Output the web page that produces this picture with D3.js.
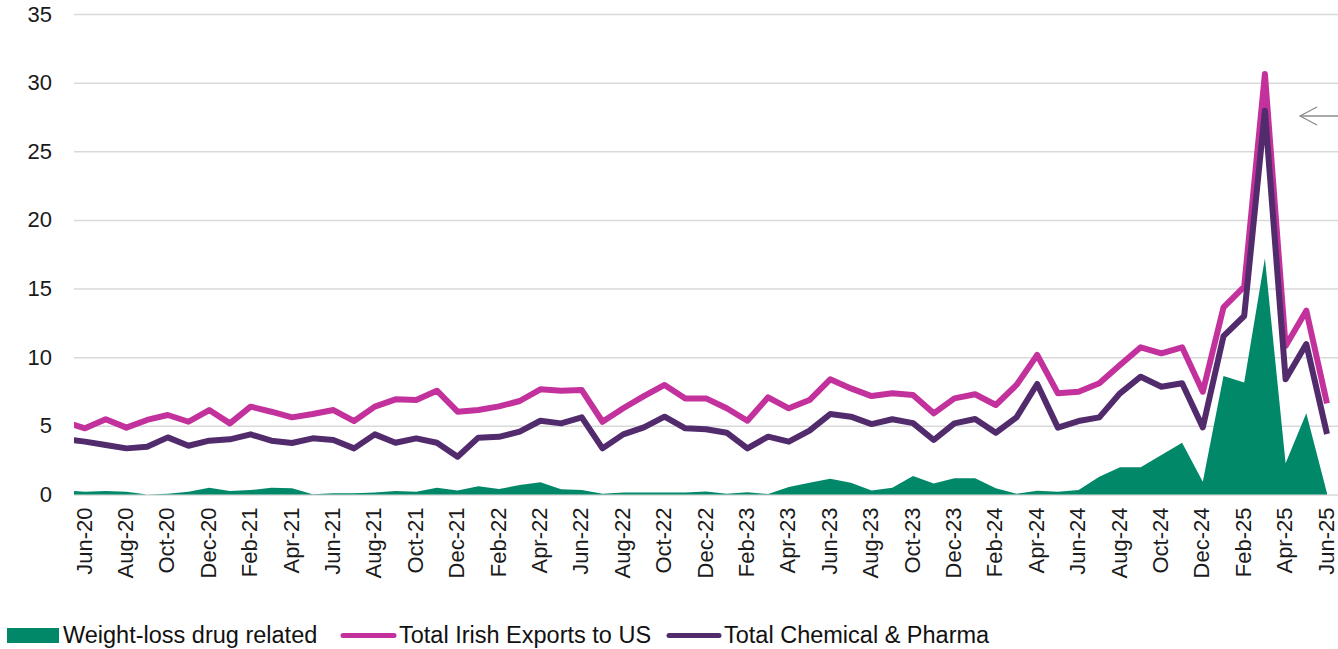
<!DOCTYPE html>
<html>
<head>
<meta charset="utf-8">
<script src="https://cdn.jsdelivr.net/npm/d3@7"></script>
<style>
	html, body { margin: 0; padding: 0; background: #fff; }
	svg { display: block; font-family: "Liberation Sans", Arial, sans-serif; }
</style>
</head>
<body>
<svg id="chart" width="1338" height="649"></svg>
<script>
// months, May-20 .. Jun-25 (May-20 sits partly behind the left edge)
var months = ['May-20','Jun-20','Jul-20','Aug-20','Sep-20','Oct-20','Nov-20','Dec-20',
	'Jan-21','Feb-21','Mar-21','Apr-21','May-21','Jun-21','Jul-21','Aug-21','Sep-21','Oct-21','Nov-21','Dec-21',
	'Jan-22','Feb-22','Mar-22','Apr-22','May-22','Jun-22','Jul-22','Aug-22','Sep-22','Oct-22','Nov-22','Dec-22',
	'Jan-23','Feb-23','Mar-23','Apr-23','May-23','Jun-23','Jul-23','Aug-23','Sep-23','Oct-23','Nov-23','Dec-23',
	'Jan-24','Feb-24','Mar-24','Apr-24','May-24','Jun-24','Jul-24','Aug-24','Sep-24','Oct-24','Nov-24','Dec-24',
	'Jan-25','Feb-25','Mar-25','Apr-25','May-25','Jun-25'];

var totalExports = [5.3, 4.82, 5.48, 4.87, 5.43, 5.79, 5.3, 6.15,
	5.18, 6.4, 6.03, 5.62, 5.86, 6.15, 5.35, 6.4, 6.93, 6.88, 7.56, 6.03,
	6.15, 6.42, 6.81, 7.66, 7.56, 7.61, 5.3, 6.28, 7.17, 7.98, 7.0, 7.0,
	6.28, 5.37, 7.08, 6.28, 6.88, 8.39, 7.73, 7.17, 7.37, 7.25, 5.91, 7.0,
	7.3, 6.52, 7.98, 10.16, 7.37, 7.49, 8.1, 9.43, 10.72, 10.28, 10.72, 7.49,
	13.63, 15.14, 30.63, 10.82, 13.39, 6.64];

var chemPharma = [4.05, 3.85, 3.6, 3.36, 3.48, 4.16, 3.55, 3.92,
	4.02, 4.38, 3.92, 3.75, 4.09, 3.97, 3.36, 4.38, 3.77, 4.09, 3.77, 2.75,
	4.14, 4.2, 4.58, 5.37, 5.18, 5.62, 3.36, 4.38, 4.89, 5.67, 4.82, 4.75,
	4.5, 3.36, 4.21, 3.85, 4.65, 5.86, 5.67, 5.13, 5.48, 5.2, 3.97, 5.18,
	5.5, 4.5, 5.62, 8.05, 4.87, 5.35, 5.62, 7.37, 8.58, 7.85, 8.1, 4.89,
	11.54, 13.0, 27.95, 8.39, 10.96, 4.41];

var weightLoss = [0.3, 0.2, 0.25, 0.2, 0.0, 0.05, 0.2, 0.5,
	0.25, 0.32, 0.5, 0.45, 0.02, 0.1, 0.1, 0.15, 0.25, 0.2, 0.5, 0.3,
	0.6, 0.4, 0.69, 0.89, 0.38, 0.33, 0.05, 0.15, 0.15, 0.15, 0.15, 0.22,
	0.05, 0.17, 0.03, 0.55, 0.85, 1.15, 0.85, 0.3, 0.5, 1.35, 0.81, 1.18,
	1.18, 0.45, 0.05, 0.28, 0.2, 0.33, 1.3, 1.98, 1.98, 2.88, 3.77, 0.93,
	8.63, 8.15, 17.2, 2.27, 5.91, 0.09];

var yTicks = [0, 5, 10, 15, 20, 25, 30, 35];

var seriesNames = ['Weight-loss drug related', 'Total Irish Exports to US', 'Total Chemical & Pharma'];

var green = '#008868', pink = '#C3329C', purple = '#522B6D';

var svg = d3.select('#chart');
var plotLeft = 74, plotRight = 1338;

var x = d3.scalePoint()
	.domain(months)
	.range([64.3, 64.3 + 20.7 * (months.length - 1)]);
var y = d3.scaleLinear()
	.domain([0, 35])
	.range([494.5, 14]);

svg.append('defs').append('clipPath')
	.attr('id', 'plotclip')
	.append('rect')
	.attr('x', plotLeft)
	.attr('y', 0)
	.attr('width', plotRight - plotLeft)
	.attr('height', 520);

// gridlines + y labels
var yAxis = d3.axisLeft(y)
	.tickValues(yTicks)
	.tickSize(-(plotRight - plotLeft))
	.tickPadding(22);
var gy = svg.append('g')
	.attr('transform', 'translate(' + plotLeft + ',0)')
	.call(yAxis);
gy.select('.domain').remove();
gy.selectAll('.tick line')
	.attr('stroke', '#d9d9d9')
	.attr('stroke-width', 1.5);
gy.selectAll('.tick text')
	.attr('fill', '#1a1a1a')
	.style('font-size', '22px');

var plot = svg.append('g').attr('clip-path', 'url(#plotclip)');

var area = d3.area()
	.x(function(d, i) { return x(months[i]); })
	.y0(y(0))
	.y1(function(d) { return y(d); });
plot.append('path')
	.datum(weightLoss)
	.attr('fill', green)
	.attr('d', area);

var line = d3.line()
	.x(function(d, i) { return x(months[i]); })
	.y(function(d) { return y(d); });
plot.append('path')
	.datum(totalExports)
	.attr('fill', 'none')
	.attr('stroke', pink)
	.attr('stroke-width', 6)
	.attr('stroke-linejoin', 'round')
	.attr('d', line);
plot.append('path')
	.datum(chemPharma)
	.attr('fill', 'none')
	.attr('stroke', purple)
	.attr('stroke-width', 6)
	.attr('stroke-linejoin', 'round')
	.attr('d', line);

// x labels, every second month from Jun-20
var labelled = months.filter(function(m, i) { return i % 2 === 1; });
var xAxis = d3.axisBottom(x)
	.tickValues(labelled)
	.tickSize(0);
var gx = svg.append('g')
	.attr('transform', 'translate(0,' + y(0) + ')')
	.call(xAxis);
gx.select('.domain').remove();
gx.selectAll('.tick text')
	.attr('fill', '#1a1a1a')
	.style('font-size', '22px')
	.attr('text-anchor', 'end')
	.attr('transform', 'rotate(-90)')
	.attr('x', -13)
	.attr('y', -1)
	.attr('dy', '0.32em');

// arrow at top right
var arrow = svg.append('g')
	.attr('fill', 'none')
	.attr('stroke', '#8c8c8c')
	.attr('stroke-width', 1.3);
arrow.append('line')
	.attr('x1', 1300).attr('y1', 116)
	.attr('x2', 1338).attr('y2', 116);
arrow.append('path')
	.attr('d', 'M1317,107L1300,116L1317,125');

// legend
var legend = svg.append('g').style('font-size', '23.5px').attr('fill', '#111');
legend.append('rect')
	.attr('x', 7).attr('y', 628)
	.attr('width', 52).attr('height', 15)
	.attr('fill', green);
legend.append('text').attr('x', 63).attr('y', 643).text(seriesNames[0]);
legend.append('line')
	.attr('x1', 343).attr('x2', 394)
	.attr('y1', 635.5).attr('y2', 635.5)
	.attr('stroke', pink).attr('stroke-width', 5)
	.attr('stroke-linecap', 'round');
legend.append('text').attr('x', 399).attr('y', 643).text(seriesNames[1]);
legend.append('line')
	.attr('x1', 669).attr('x2', 719)
	.attr('y1', 635.5).attr('y2', 635.5)
	.attr('stroke', purple).attr('stroke-width', 5)
	.attr('stroke-linecap', 'round');
legend.append('text').attr('x', 724).attr('y', 643).text(seriesNames[2]);
</script>
</body>
</html>
